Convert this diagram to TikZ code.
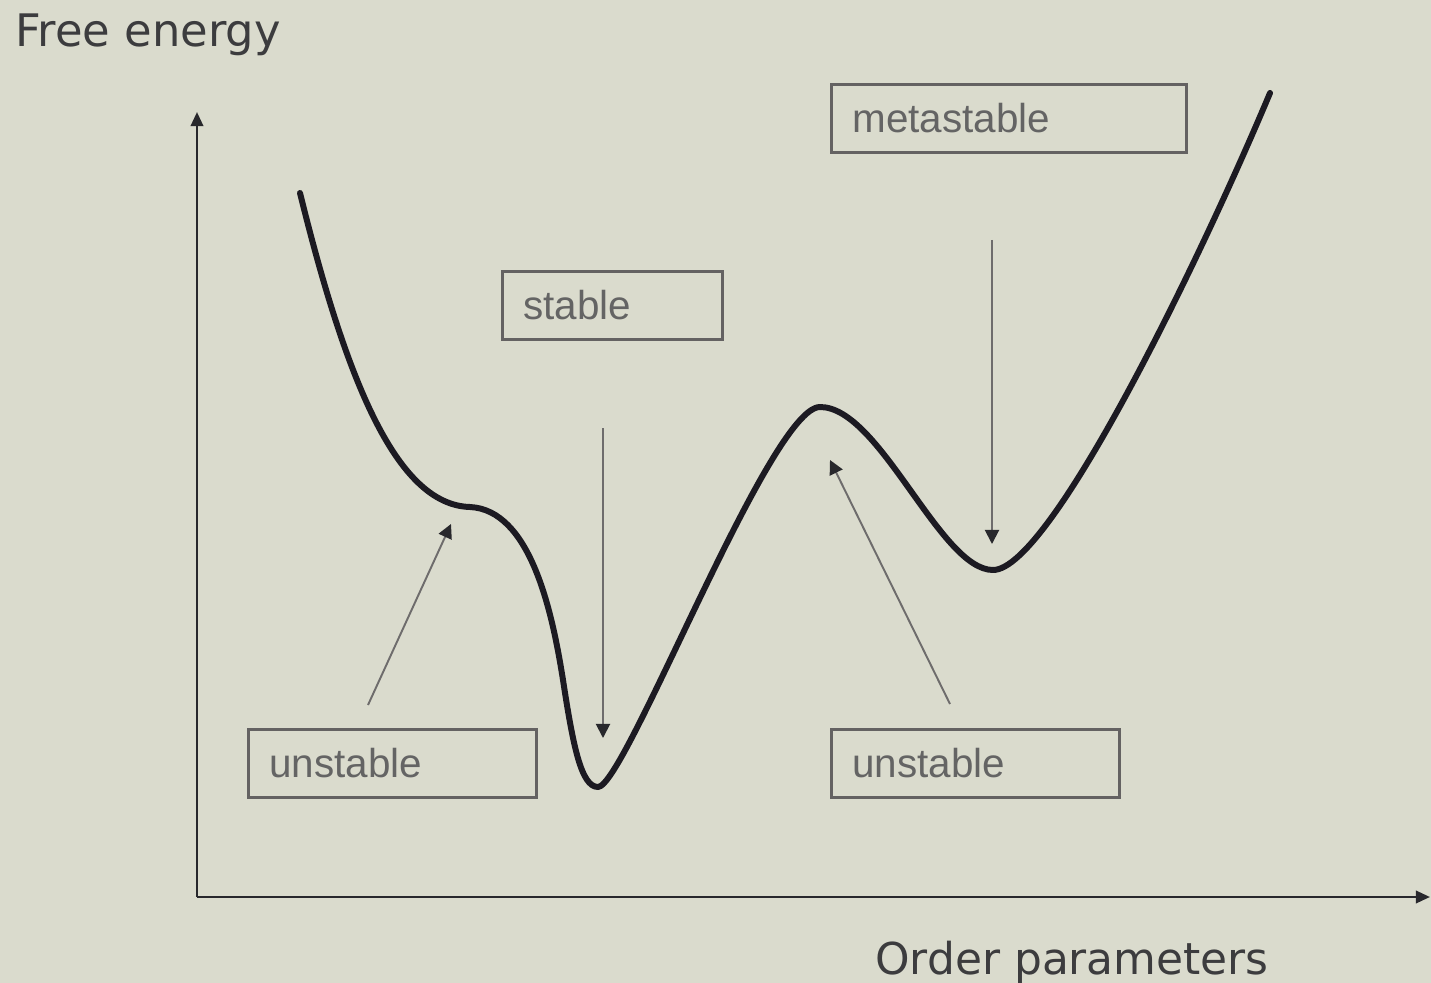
\documentclass[tikz,border=0pt]{standalone}
\usepackage{fontspec}
\usetikzlibrary{arrows.meta}
\newfontfamily\boxfont{Liberation Sans}
\newfontfamily\axfont{DejaVu Sans}
\definecolor{bgc}{RGB}{218,219,205}
\definecolor{curvec}{RGB}{28,26,34}
\definecolor{axc}{RGB}{40,40,44}
\definecolor{boxc}{RGB}{100,98,98}
\definecolor{txtc}{RGB}{100,100,100}
\definecolor{arrc}{RGB}{110,108,108}
\definecolor{headc}{RGB}{40,40,44}
\definecolor{labc}{RGB}{60,60,62}
\tikzset{
  lbox/.style={draw=boxc, line width=1.6pt, text=txtc, font=\boxfont\fontsize{23}{27}\selectfont,
    inner xsep=0.42cm, inner ysep=0pt, align=left, minimum height=1.36cm, anchor=north west},
  ann/.style={draw=arrc, line width=1.1pt, -{Triangle[length=8pt,width=8pt,color=headc]}},
  axis/.style={draw=axc, line width=1.5pt, -{Triangle[length=8pt,width=7pt]}},
  curve/.style={draw=curvec, line width=3.4pt, line cap=round, line join=round},
  axlab/.style={text=labc, font=\axfont\fontsize{25.5}{30}\selectfont, inner sep=0pt, anchor=base west}
}
\begin{document}
\begin{tikzpicture}[x=0.02cm,y=-0.02cm]
\fill[bgc] (0,0) rectangle (1431,983);
\useasboundingbox (0,0) rectangle (1431,983);
% axes
\coordinate (O) at (197,897);
\coordinate (ytop) at (197,112);
\coordinate (xend) at (1430,897);
\draw[axis] (O) -- (ytop);
\draw[axis] (O) -- (xend);
\node[axlab] (fe) at (15,47) {Free energy};
\node[axlab, font=\axfont\fontsize{25}{30}\selectfont] (op) at (875,974) {Order parameters};
% curve
\coordinate (p0) at (300,193);
\coordinate (p1) at (470,507);
\coordinate (q) at (563,680);
\coordinate (p2) at (598,787);
\coordinate (p3) at (820,407);
\coordinate (p4) at (993,570);
\coordinate (p5) at (1270,93);
\draw[curve] (p0) .. controls (345,375) and (395,505) .. (p1)
  .. controls (530,510) and (552,610) .. (q)
  .. controls (573,745) and (581,787) .. (p2)
  .. controls (625,787) and (770,407) .. (p3)
  .. controls (880,407) and (940,570) .. (p4)
  .. controls (1050,570) and (1200,260) .. (p5);
% boxes
\node[lbox, text width=6.26cm] (meta) at (830,83) {metastable};
\node[lbox, text width=3.56cm] (stab) at (501,270) {stable};
\node[lbox, text width=4.92cm] (unl) at (247,728) {unstable};
\node[lbox, text width=4.92cm] (unr) at (830,728) {unstable};
% annotation arrows
\coordinate (a1s) at (368,705); \coordinate (a1e) at (451,524);
\coordinate (a2s) at (603,428); \coordinate (a2e) at (603,738);
\coordinate (a3s) at (992,240); \coordinate (a3e) at (992,544);
\coordinate (a4s) at (950,704); \coordinate (a4e) at (830,460);
\draw[ann] (a1s) -- (a1e);
\draw[ann] (a2s) -- (a2e);
\draw[ann] (a3s) -- (a3e);
\draw[ann] (a4s) -- (a4e);
\end{tikzpicture}
\end{document}
